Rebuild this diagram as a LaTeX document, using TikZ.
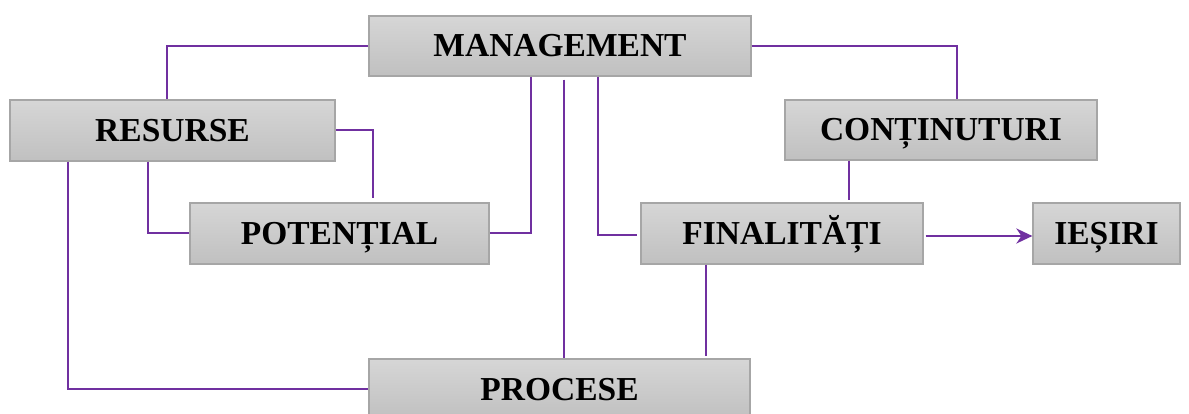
\documentclass[tikz,border=0pt]{standalone}
\usepackage{fontspec}
\setmainfont{Liberation Serif}
\usetikzlibrary{arrows.meta,calc}
\definecolor{linkpurple}{HTML}{7030A0}
\definecolor{boxtop}{HTML}{D6D6D6}
\definecolor{boxbot}{HTML}{C0C0C0}
\definecolor{boxedge}{HTML}{A6A6A6}
\tikzset{
  gbox/.style={draw=boxedge, line width=1.2pt, top color=boxtop, bottom color=boxbot,
    inner sep=0pt, text height=22pt, text depth=0pt,
    font=\bfseries\fontsize{33.5}{40}\selectfont, text=black},
  link/.style={draw=linkpurple, line width=2pt},
  arrowlink/.style={draw=linkpurple, line width=2.4pt, -{Stealth[length=16pt,width=15pt,inset=5pt]}}
}
\begin{document}
\begin{tikzpicture}[x=1pt,y=-1pt]
\useasboundingbox (0,0) rectangle (1189,414);
\clip (0,0) rectangle (1189,414);
% boxes
\node[gbox, minimum width=382pt, minimum height=60pt] (man) at (560,46) {MANAGEMENT};
\node[gbox, minimum width=325pt, minimum height=61pt] (res) at (172.5,130.5) {RESURSE};
\node[gbox, minimum width=299pt, minimum height=61pt] (pot) at (339.5,233.5) {POTENȚIAL};
\node[gbox, minimum width=312pt, minimum height=60pt] (con) at (941,130) {CONȚINUTURI};
\node[gbox, minimum width=282pt, minimum height=61pt] (fin) at (782,233.5) {FINALITĂȚI};
\node[gbox, minimum width=147pt, minimum height=61pt] (ies) at (1106.5,233.5) {IEȘIRI};
\node[gbox, minimum width=381pt, minimum height=60pt] (pro) at (559.5,389) {PROCESE};
% connectors
\draw[link] (man.west) -| ([xshift=-5.5pt]res.north);
\draw[link] (man.east) -| ([xshift=16pt]con.north);
\draw[link] (res.east) -| ([xshift=33.5pt,yshift=4pt]pot.north);
\draw[link] ([xshift=-24.5pt]res.south) |- (pot.west);
\draw[link] ([xshift=-104.5pt]res.south) |- (pro.west);
\draw[link] ([xshift=-29pt]man.south) |- (pot.east);
\coordinate (c7) at ([xshift=4pt,yshift=-3pt]man.south);
\draw[link] (c7) -- (c7 |- pro.north);
\draw[link] ([xshift=38pt]man.south) |- ([xshift=-3pt,yshift=-1.5pt]fin.west);
\coordinate (c9) at ([xshift=-92pt]con.south);
\draw[link] (c9) -- ($(c9 |- fin.north)+(0,-2)$);
\coordinate (c10) at ([xshift=-76pt]fin.south);
\draw[link] (c10) -- ($(c10 |- pro.north)+(0,-2)$);
\coordinate (c11) at ([xshift=2pt,yshift=-2.5pt]fin.east);
\draw[arrowlink] (c11) -- (c11 -| ies.west);
\end{tikzpicture}
\end{document}
